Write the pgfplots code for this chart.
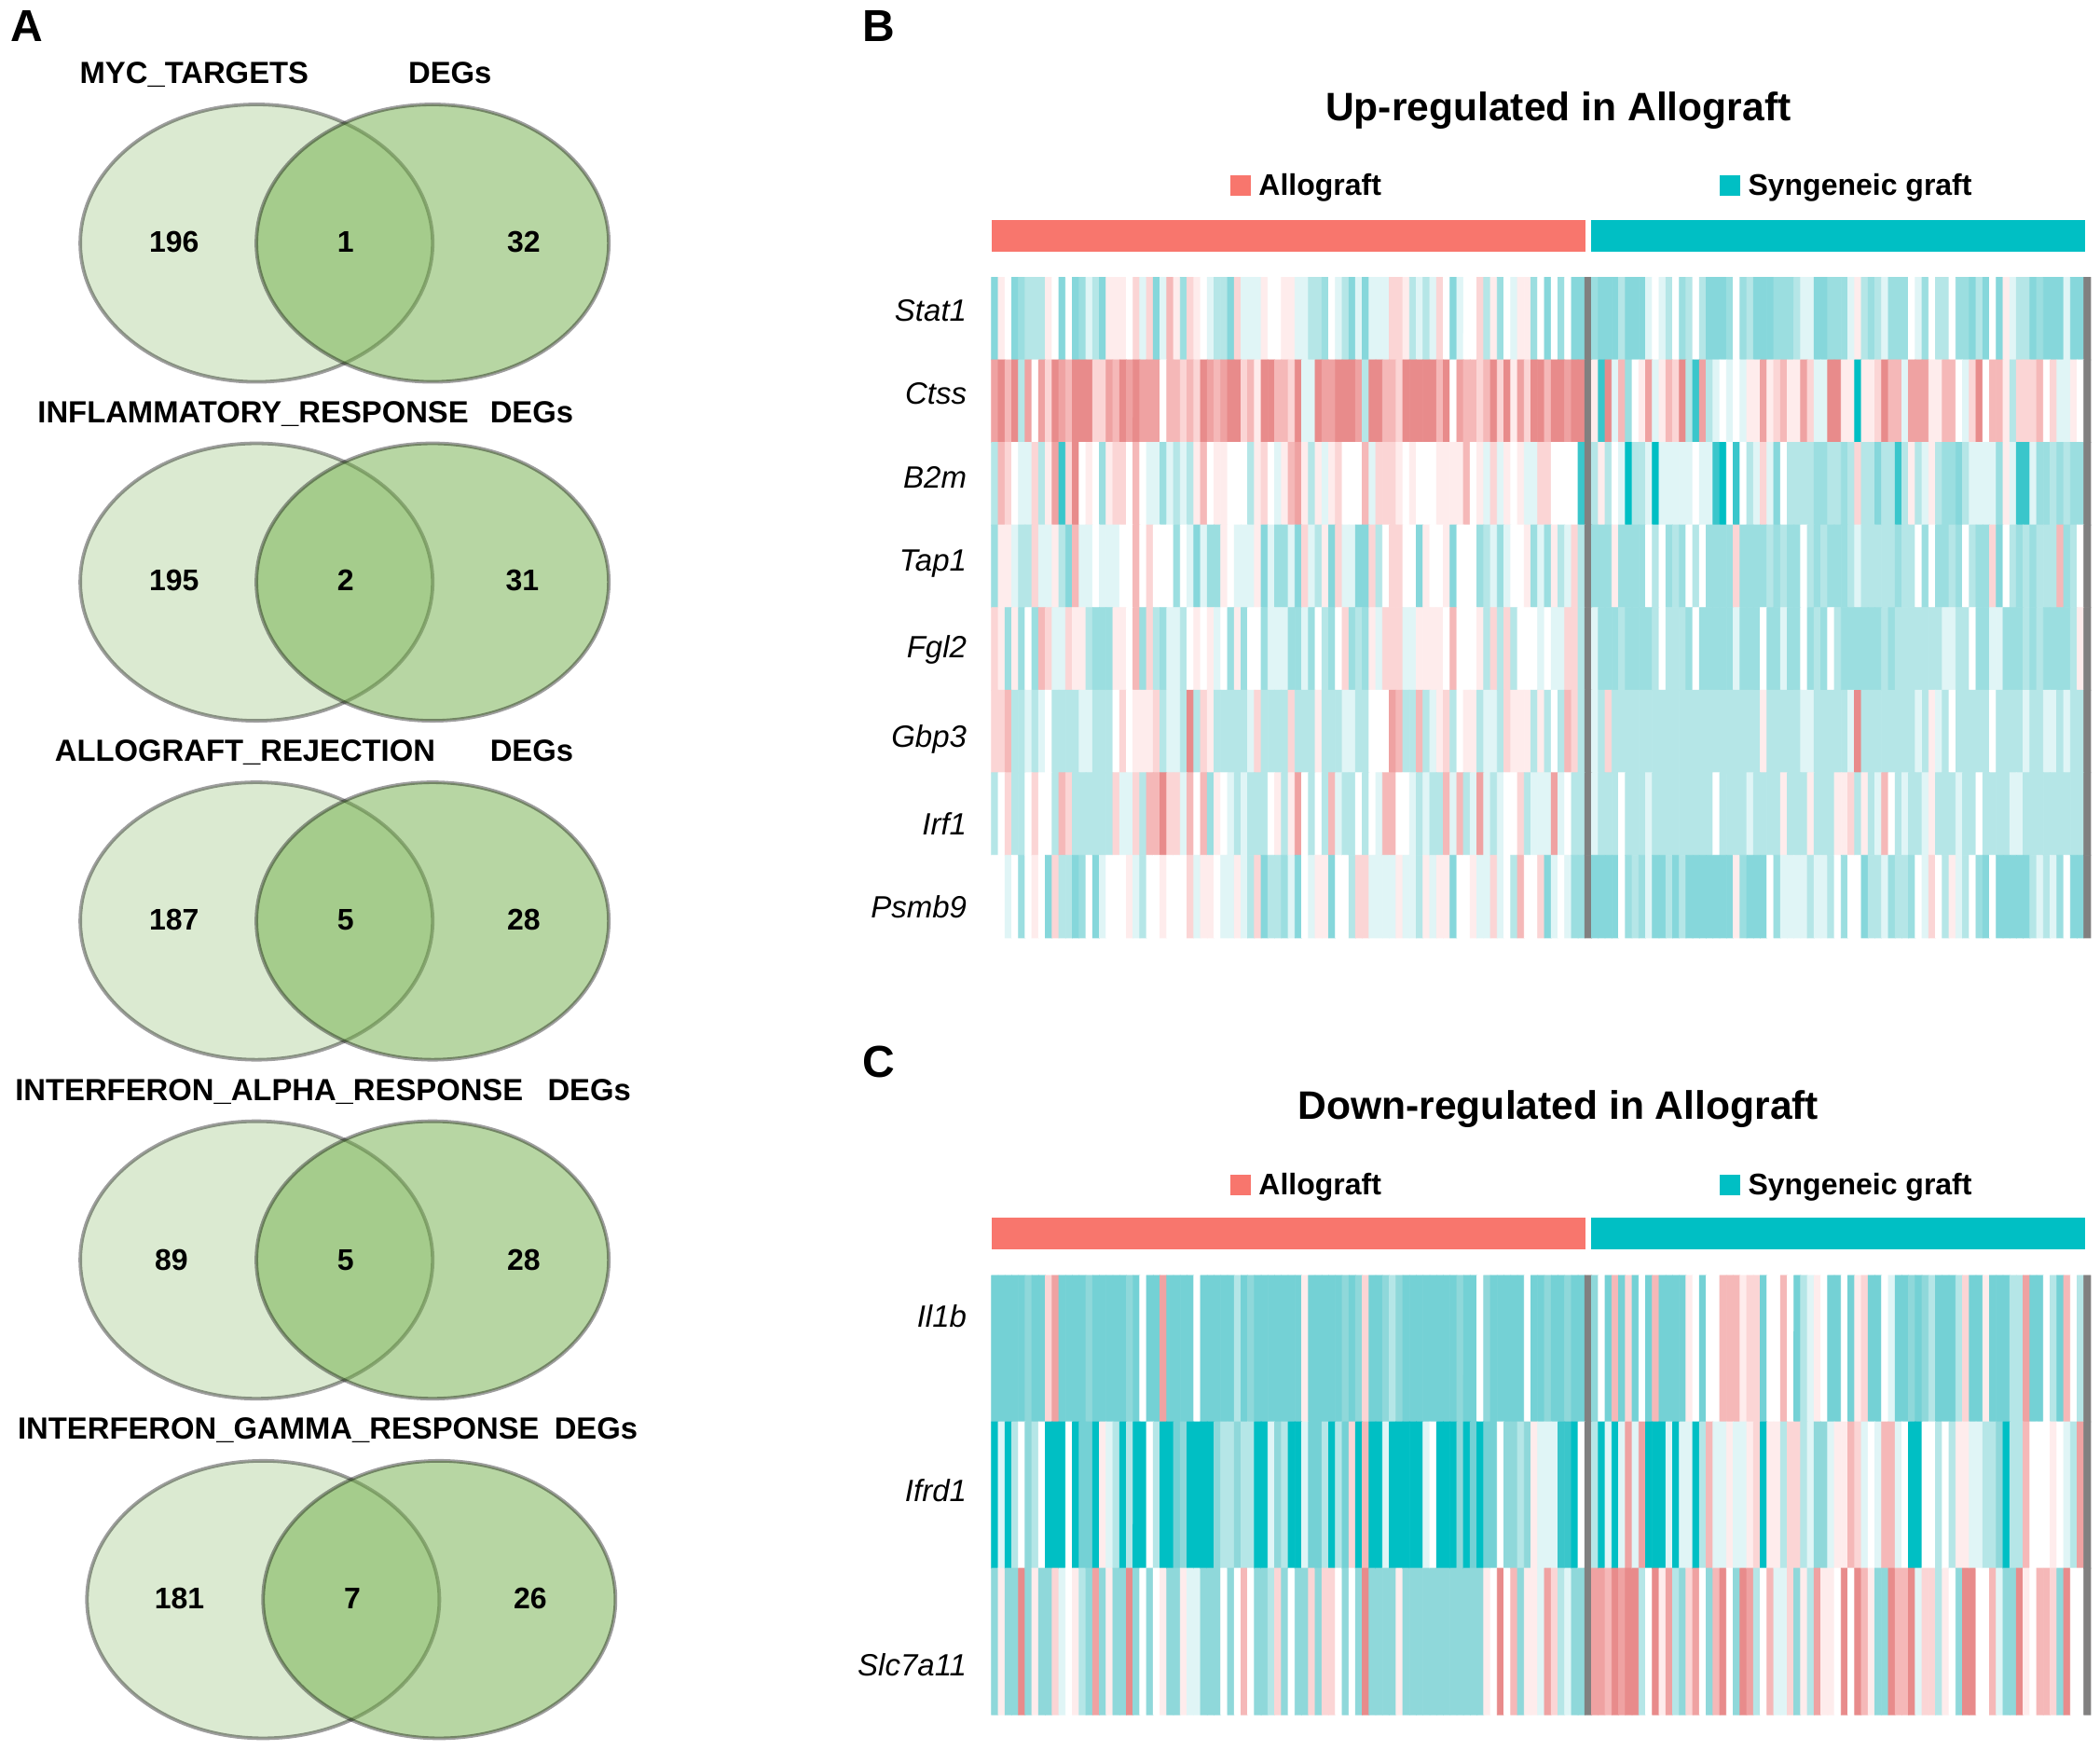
\documentclass[border=0pt]{standalone}
\usepackage{fontspec}
\setmainfont{Liberation Sans}
\usepackage{pgfplots}
\pgfplotsset{compat=1.18}

\definecolor{allo}{HTML}{F8766D}
\definecolor{syn}{HTML}{00BFC4}
\definecolor{venn}{HTML}{70AD47}

% heat scale: -6 teal ... 0 white ... 5 salmon, 6 = NA column (grey)
\pgfplotsset{colormap={heat}{
  rgb255(0cm)=(0,191,196) rgb255(1cm)=(58,198,203) rgb255(2cm)=(134,215,219)
  rgb255(3cm)=(155,222,224) rgb255(4cm)=(181,230,231) rgb255(5cm)=(224,245,246)
  rgb255(6cm)=(255,255,255) rgb255(7cm)=(254,236,236) rgb255(8cm)=(251,213,213)
  rgb255(9cm)=(245,184,184) rgb255(10cm)=(239,162,162) rgb255(11cm)=(232,139,139)
  rgb255(12cm)=(128,128,128)}}
% panel C has a slightly stronger teal
\pgfplotsset{colormap={heatc}{
  rgb255(0cm)=(0,191,196) rgb255(1cm)=(58,198,203) rgb255(2cm)=(116,209,213)
  rgb255(3cm)=(143,216,218) rgb255(4cm)=(181,230,231) rgb255(5cm)=(224,245,246)
  rgb255(6cm)=(255,255,255) rgb255(7cm)=(254,236,236) rgb255(8cm)=(251,213,213)
  rgb255(9cm)=(245,184,184) rgb255(10cm)=(239,162,162) rgb255(11cm)=(232,139,139)
  rgb255(12cm)=(128,128,128)}}

\newcommand{\bnode}[3]{\node[anchor=base,font=\bfseries\fontsize{16.4}{19}\selectfont] at (axis cs:#1,#2) {#3};}
\newcommand{\nnode}[3]{\node[anchor=base,font=\bfseries\fontsize{16}{19}\selectfont] at (axis cs:#1,#2) {#3};}
\newcommand{\lnode}[3]{\node[anchor=base west,inner sep=0pt,font=\bfseries\fontsize{16}{19}\selectfont] at (axis cs:#1,#2) {#3};}
\newcommand{\gene}[2]{\node[anchor=base east,inner sep=0pt,font=\itshape\fontsize{16.5}{19}\selectfont] at (axis cs:722,#1) {#2};}
\newcommand{\panel}[3]{\node[anchor=base,font=\bfseries\fontsize{24}{28}\selectfont] at (axis cs:#1,#2) {#3};}
\newcommand{\rect}[5]{\addplot[fill=#1,draw=none] coordinates {(#2,#4) (#3,#4) (#3,#5) (#2,#5)} -- cycle;}

\begin{document}
\begin{tikzpicture}
\begin{axis}[
  scale only axis, width=1126.5pt, height=938.5pt,
  xmin=0, xmax=1568, ymin=0, ymax=1306.3, y dir=reverse,
  hide axis, clip=false, clip mode=individual,
  colormap name=heat, point meta min=-6, point meta max=6,
]
% keeps the page as large as the whole axis
\path (axis cs:0,0) rectangle (axis cs:1568,1306.3);

% venn circles
\addplot[only marks, mark=*, mark size=74.4pt, line width=1.9pt,
  mark options={xscale=1.2705, draw=black, draw opacity=0.38, fill=venn, fill opacity=0.25}]
  coordinates {(191.5,181.5) (191.5,434.5) (191.5,687.5) (191.5,940.5) (196.5,1194)};
\addplot[only marks, mark=*, mark size=74.4pt, line width=1.9pt,
  mark options={xscale=1.2705, draw=black, draw opacity=0.38, fill=venn, fill opacity=0.5}]
  coordinates {(323,181.5) (323,434.5) (323,687.5) (323,940.5) (328,1194)};

% panel B annotation
\rect{allo}{740.5}{1183.6}{164.2}{187.9}
\rect{syn}{1187.7}{1557}{164.2}{187.9}
\rect{allo}{918.7}{934}{131}{146}
\rect{syn}{1284}{1299}{131}{146}
% panel C annotation
\rect{allo}{740.5}{1183.6}{909.2}{932.9}
\rect{syn}{1187.7}{1557}{909.2}{932.9}
\rect{allo}{918.7}{934}{877}{892}
\rect{syn}{1284}{1299}{877}{892}

% panel B heat map, row by row (88 + NA + 73 + NA cells)
\addplot[matrix plot*, mesh/cols=163, point meta=explicit] table[
  row sep=crcr, header=false, meta index=0,
  x expr={740.3+5.035*(mod(\coordindex,163)+0.5)},
  y expr={207+61.63*(floor(\coordindex/163)+0.5)}]{
-4\\1\\0\\-4\\-3\\-2\\-2\\-2\\1\\0\\
-4\\0\\-4\\-3\\-1\\-2\\-4\\1\\1\\1\\
0\\2\\-1\\2\\-4\\-1\\3\\1\\-3\\2\\
1\\0\\-1\\-2\\-2\\-4\\2\\-1\\-1\\-1\\
1\\0\\0\\1\\1\\-1\\-1\\-2\\-2\\-3\\
0\\-1\\-2\\-4\\-1\\-4\\-1\\-1\\-1\\2\\
2\\1\\-2\\-1\\-2\\-1\\2\\0\\-4\\-1\\
0\\0\\2\\-2\\1\\-3\\0\\-1\\1\\1\\
-3\\0\\-4\\0\\-3\\0\\-4\\-4\\
6\\
-3\\-4\\-4\\-4\\-2\\-4\\-4\\-4\\-1\\0\\
-1\\-2\\0\\-3\\-2\\0\\-2\\-4\\-4\\-4\\
-3\\0\\-3\\-2\\-4\\-4\\-4\\-3\\-3\\-3\\
-2\\-1\\-1\\-4\\-4\\-3\\-3\\-3\\-1\\1\\
-2\\-3\\-2\\-1\\-3\\-3\\-3\\0\\-1\\-3\\
0\\-2\\-2\\0\\-3\\-3\\-4\\-2\\-4\\0\\
-4\\1\\-1\\-2\\-2\\-4\\-3\\-4\\-4\\-4\\
-1\\-4\\-4\\
6\\
4\\5\\3\\5\\-2\\4\\0\\4\\2\\5\\
4\\3\\5\\5\\5\\2\\2\\4\\3\\5\\
4\\5\\4\\4\\4\\0\\3\\3\\2\\3\\
2\\5\\4\\3\\4\\5\\5\\2\\3\\1\\
5\\5\\3\\3\\2\\5\\-1\\-1\\5\\4\\
4\\5\\5\\5\\4\\-2\\5\\5\\3\\3\\
2\\5\\5\\5\\5\\5\\3\\5\\0\\4\\
3\\3\\2\\3\\5\\2\\5\\1\\4\\2\\
5\\5\\3\\5\\5\\4\\5\\5\\
6\\
1\\-5\\5\\-1\\3\\-3\\0\\1\\4\\-1\\
1\\3\\2\\5\\-2\\-5\\4\\-2\\-1\\0\\
-1\\0\\-1\\1\\1\\4\\1\\2\\3\\1\\
1\\4\\2\\-1\\-1\\5\\5\\1\\1\\-6\\
1\\1\\2\\5\\3\\3\\-1\\4\\4\\4\\
1\\1\\3\\3\\0\\-1\\2\\5\\0\\3\\
3\\1\\-2\\2\\2\\2\\3\\0\\2\\-1\\
-1\\1\\0\\
6\\
-2\\3\\2\\0\\-1\\-1\\2\\-2\\1\\4\\
-5\\2\\5\\0\\1\\0\\-3\\1\\2\\2\\
0\\3\\0\\-1\\-1\\-3\\-1\\-2\\-1\\-2\\
1\\3\\0\\1\\1\\0\\0\\0\\-2\\1\\
2\\0\\-1\\1\\3\\4\\1\\-2\\1\\-1\\
1\\2\\0\\0\\0\\3\\-1\\2\\2\\2\\
1\\0\\1\\0\\0\\0\\1\\1\\1\\1\\
3\\0\\1\\-1\\2\\-1\\1\\0\\1\\-1\\
-1\\2\\2\\0\\0\\0\\0\\-5\\
6\\
-2\\1\\-2\\0\\-1\\-6\\-2\\-2\\-1\\-6\\
-1\\-1\\-1\\-1\\-1\\0\\-1\\-1\\-5\\-6\\
0\\-5\\0\\-2\\-1\\2\\-1\\-4\\0\\-2\\
-2\\-2\\-2\\-3\\-3\\-2\\-2\\-3\\-2\\2\\
-2\\-2\\-4\\-2\\-2\\-5\\-2\\1\\-2\\-1\\
1\\-2\\-3\\-3\\-4\\-2\\-1\\-1\\-1\\-1\\
-3\\1\\-1\\-5\\-5\\-1\\-3\\-3\\-2\\-3\\
-2\\-3\\-3\\
6\\
-3\\1\\1\\-1\\-2\\-2\\2\\-1\\-1\\1\\
-2\\-4\\3\\-1\\-1\\0\\-1\\-1\\-1\\0\\
0\\3\\0\\2\\0\\0\\0\\-3\\0\\-1\\
-4\\-1\\-3\\-3\\1\\0\\-1\\-1\\-1\\1\\
-4\\-1\\-3\\-3\\-1\\-4\\2\\-1\\-2\\1\\
-4\\2\\-1\\-1\\-4\\-4\\2\\-2\\0\\2\\
2\\0\\0\\-4\\1\\0\\0\\1\\-4\\0\\
0\\0\\-3\\-2\\-1\\-3\\-1\\0\\0\\1\\
-3\\-1\\-3\\1\\-2\\-1\\2\\-2\\
6\\
-3\\-3\\-3\\1\\-3\\-3\\-3\\-3\\0\\-2\\
0\\-3\\-2\\-3\\0\\-2\\0\\-3\\-3\\-3\\
-3\\2\\-3\\-3\\-3\\-3\\-2\\-3\\-2\\-3\\
-3\\0\\-2\\-3\\-2\\-3\\-3\\-3\\-2\\-1\\
-2\\-2\\-2\\-2\\-2\\-3\\-2\\-2\\0\\-3\\
0\\-3\\-3\\-2\\-3\\0\\-2\\-3\\-3\\2\\
-4\\0\\-2\\-3\\-2\\-3\\-2\\-2\\-2\\3\\
-3\\-2\\0\\
6\\
2\\1\\-3\\1\\-3\\0\\-3\\3\\2\\-1\\
-1\\2\\1\\1\\-2\\-3\\-3\\-3\\1\\1\\
0\\3\\-3\\2\\-2\\-3\\-1\\-1\\-2\\0\\
1\\0\\1\\-1\\0\\-3\\1\\-3\\0\\0\\
-3\\-1\\-1\\-1\\-3\\-3\\-1\\-3\\0\\-2\\
-3\\0\\2\\-3\\-2\\-3\\1\\-1\\2\\2\\
2\\-1\\-1\\1\\1\\1\\1\\0\\3\\0\\
0\\0\\1\\-2\\2\\-2\\2\\-2\\0\\0\\
0\\-1\\0\\-1\\-1\\2\\2\\-2\\
6\\
-1\\-3\\-3\\-3\\-2\\-3\\-3\\-3\\-3\\-2\\
0\\-2\\-2\\-2\\-3\\0\\-3\\-3\\-3\\-3\\
-3\\-1\\-3\\-3\\-3\\0\\-3\\-3\\-1\\-3\\
-3\\0\\-3\\-2\\-3\\0\\-2\\-3\\-3\\-3\\
-3\\-3\\-3\\-2\\-3\\-2\\-2\\-2\\-2\\-2\\
-2\\-2\\-1\\-1\\-2\\-2\\0\\-3\\-3\\-1\\
-1\\-3\\-3\\-3\\-2\\-3\\-2\\-3\\-3\\-3\\
-3\\-2\\1\\
6\\
2\\2\\3\\-2\\-2\\-1\\-2\\-1\\0\\-2\\
-2\\-2\\-2\\-1\\-1\\-2\\-2\\-2\\0\\2\\
0\\1\\1\\1\\2\\-2\\-1\\-1\\-2\\5\\
-2\\2\\1\\-2\\-2\\-2\\-2\\-2\\-1\\2\\
-2\\-2\\-2\\-2\\2\\-2\\-2\\-2\\1\\-2\\
-2\\-2\\-1\\-1\\-2\\-2\\0\\0\\0\\4\\
3\\-2\\-2\\3\\-2\\-1\\1\\2\\-2\\0\\
1\\1\\-2\\-1\\-1\\-2\\2\\1\\1\\1\\
-2\\1\\-2\\0\\-2\\3\\2\\-2\\
6\\
-1\\-2\\2\\-2\\-2\\-2\\-2\\-2\\-2\\-2\\
-2\\-2\\-2\\-2\\-2\\-2\\-2\\-2\\-2\\-2\\
-2\\-2\\-2\\-2\\-2\\1\\-2\\-2\\-2\\-2\\
-2\\-1\\-1\\-2\\-2\\-2\\-2\\-2\\-1\\5\\
-2\\-2\\-2\\-2\\-2\\-2\\-2\\-2\\-1\\-2\\
1\\-1\\-2\\0\\-2\\-2\\-2\\-2\\-2\\0\\
-2\\-2\\-2\\-2\\-1\\-2\\-2\\-1\\-1\\-2\\
-1\\-2\\-2\\
6\\
-2\\0\\2\\-2\\-2\\0\\2\\0\\0\\-2\\
3\\2\\-2\\-2\\-2\\-2\\-2\\-2\\2\\-1\\
-1\\2\\-2\\3\\3\\5\\2\\2\\-1\\3\\
0\\3\\-3\\1\\0\\-1\\-2\\-1\\-2\\-2\\
-2\\0\\1\\-2\\1\\4\\0\\-2\\0\\-2\\
3\\-1\\-2\\-2\\0\\-2\\0\\-1\\3\\3\\
0\\0\\-1\\-2\\-1\\-2\\-2\\3\\-1\\3\\
-2\\-1\\4\\-1\\-2\\-1\\0\\0\\2\\-2\\
-1\\-1\\-1\\4\\-1\\0\\-2\\-2\\
6\\
-1\\-2\\-2\\-2\\0\\-2\\-2\\-2\\-1\\-2\\
-2\\-2\\-2\\-2\\-2\\-2\\-2\\-2\\0\\-2\\
-2\\-2\\-2\\-1\\-2\\-2\\-2\\-2\\1\\-2\\
-2\\-2\\1\\-2\\-2\\-2\\1\\1\\2\\-2\\
1\\-2\\-1\\3\\0\\-2\\-1\\-2\\-2\\-1\\
1\\-2\\-2\\-2\\-1\\-2\\-2\\0\\-2\\-2\\
-2\\-2\\-1\\-1\\-2\\-2\\-2\\-2\\-2\\-2\\
-2\\-2\\-2\\
6\\
0\\0\\-1\\0\\-3\\0\\1\\0\\-4\\2\\
-2\\-2\\-4\\-3\\0\\-4\\-1\\0\\0\\0\\
1\\-1\\-2\\0\\0\\1\\0\\0\\0\\2\\
-1\\1\\1\\0\\-1\\-1\\1\\-1\\-2\\2\\
-4\\-2\\-2\\-3\\-1\\-4\\0\\-1\\1\\1\\
-4\\0\\0\\-2\\2\\2\\-1\\-1\\-1\\-1\\
1\\-1\\-1\\-2\\1\\-1\\1\\1\\-4\\0\\
0\\1\\-1\\-1\\2\\-1\\0\\-2\\3\\0\\
0\\2\\-4\\-1\\0\\-1\\-3\\-3\\
6\\
-4\\-4\\-4\\-4\\0\\-3\\-2\\-3\\-1\\-4\\
-4\\-2\\-4\\-2\\-4\\-4\\-4\\-4\\-4\\-4\\
-4\\1\\-3\\-4\\-4\\-4\\0\\-3\\-1\\-1\\
-1\\-1\\-2\\-1\\-1\\-2\\0\\-3\\0\\0\\
-4\\-2\\-2\\-1\\-3\\-2\\-2\\-3\\0\\-1\\
2\\0\\-2\\1\\-1\\-2\\0\\-3\\-4\\0\\
-4\\-4\\-4\\-4\\-4\\-2\\-1\\-2\\-1\\-3\\
0\\-4\\-4\\
6\\
};

% panel C heat map
\addplot[matrix plot*, colormap name=heatc, mesh/cols=163, point meta=explicit] table[
  row sep=crcr, header=false, meta index=0,
  x expr={740.3+5.035*(mod(\coordindex,163)+0.5)},
  y expr={952+109.33*(floor(\coordindex/163)+0.5)}]{
-4\\-4\\-4\\-4\\-4\\-3\\-4\\-4\\2\\4\\
-4\\-4\\-4\\-4\\-3\\-4\\-4\\-4\\-4\\-4\\
-3\\-4\\0\\-4\\-4\\4\\-4\\-4\\-4\\-4\\
0\\-4\\-4\\-4\\-4\\-4\\-2\\-4\\-3\\-4\\
-4\\-4\\-4\\-4\\-4\\-4\\1\\-4\\-4\\-4\\
-4\\-4\\-3\\-4\\-3\\2\\-4\\-4\\-3\\-2\\
-3\\-4\\-4\\-4\\-4\\-4\\-4\\-4\\-4\\-3\\
-4\\-4\\0\\-3\\-4\\-4\\-4\\-4\\-4\\0\\
-4\\-4\\-3\\-4\\-4\\-3\\-4\\-4\\
6\\
-3\\0\\-4\\3\\-4\\2\\-4\\0\\-4\\3\\
-4\\-4\\-4\\-4\\1\\0\\-4\\0\\0\\3\\
3\\3\\1\\2\\2\\-4\\0\\0\\3\\0\\
-4\\-2\\-1\\1\\0\\-4\\-4\\0\\-4\\1\\
2\\-4\\-4\\0\\-1\\-4\\-4\\-3\\-4\\-3\\
-2\\-4\\-4\\-4\\-2\\2\\-4\\-4\\1\\-4\\
-4\\-4\\-2\\-2\\4\\-4\\-4\\0\\-2\\-4\\
3\\0\\-2\\
6\\
-6\\-1\\-6\\-2\\0\\-3\\-2\\0\\-6\\-6\\
-6\\0\\-6\\-4\\-4\\-6\\1\\-1\\-2\\-6\\
-2\\-6\\-6\\0\\-2\\-6\\-6\\-4\\-3\\-6\\
-6\\-6\\-6\\-3\\-2\\-2\\-3\\-2\\-2\\-6\\
-6\\-1\\-3\\-2\\-6\\-6\\-1\\-4\\-4\\-2\\
-6\\-2\\-4\\2\\-6\\3\\-6\\-6\\-1\\-6\\
-6\\-6\\-6\\-6\\-1\\0\\-6\\-6\\-6\\-3\\
-6\\-4\\-6\\-4\\-4\\0\\-3\\-3\\-2\\-3\\
1\\-1\\-1\\-1\\-5\\-5\\-6\\0\\
6\\
-2\\-6\\-1\\-6\\-1\\4\\-1\\4\\-6\\-6\\
-6\\-1\\-6\\-1\\-1\\-6\\-2\\3\\-1\\-1\\
1\\-1\\-1\\1\\2\\-6\\1\\1\\-2\\2\\
2\\-2\\-1\\-3\\-3\\-1\\1\\1\\3\\2\\
-1\\0\\-1\\3\\3\\-1\\0\\-6\\-6\\0\\
0\\-2\\0\\-2\\1\\1\\-1\\-1\\-2\\-2\\
-3\\-6\\-2\\-2\\3\\0\\0\\0\\1\\0\\
-1\\-2\\4\\
6\\
-3\\1\\-3\\-3\\5\\-3\\1\\-3\\-3\\2\\
-1\\0\\1\\-2\\-3\\4\\-3\\1\\-3\\-3\\
5\\-3\\0\\-3\\0\\1\\-3\\-3\\1\\-1\\
-1\\-3\\-3\\-3\\0\\-3\\0\\3\\0\\-3\\
-3\\-2\\2\\-3\\0\\-3\\-3\\2\\-3\\2\\
2\\0\\-3\\0\\-3\\5\\-3\\-3\\-3\\-3\\
1\\-3\\-3\\-3\\-3\\-3\\-3\\-3\\-3\\-3\\
-3\\-3\\-3\\1\\0\\5\\0\\3\\-3\\1\\
1\\-1\\4\\2\\-2\\-1\\-3\\-3\\
6\\
4\\4\\3\\5\\4\\5\\5\\-2\\0\\5\\
1\\4\\-2\\-3\\2\\4\\0\\-3\\3\\5\\
0\\-3\\5\\4\\-2\\0\\3\\-1\\-1\\2\\
-3\\1\\-2\\4\\1\\1\\0\\5\\0\\5\\
3\\1\\-3\\-3\\5\\3\\3\\5\\-1\\2\\
2\\-2\\1\\0\\-3\\5\\5\\0\\0\\3\\
-1\\-3\\-3\\5\\1\\0\\3\\3\\2\\-3\\
5\\0\\0\\
6\\
};

% panel letters
\panel{20}{31}{A}
\panel{656}{31}{B}
\panel{656}{804}{C}

% venn labels
\bnode{145}{62}{MYC\_TARGETS}
\bnode{336}{62}{DEGs}
\bnode{189}{315.5}{INFLAMMATORY\_RESPONSE}
\bnode{397}{315.5}{DEGs}
\bnode{183}{568.5}{ALLOGRAFT\_REJECTION}
\bnode{397}{568.5}{DEGs}
\bnode{201}{821.5}{INTERFERON\_ALPHA\_RESPONSE}
\bnode{440}{821.5}{DEGs}
\bnode{208}{1074.5}{INTERFERON\_GAMMA\_RESPONSE}
\bnode{445}{1074.5}{DEGs}

\nnode{130}{188}{196} \nnode{258}{188}{1} \nnode{391}{188}{32}
\nnode{130}{441}{195} \nnode{258}{441}{2} \nnode{390}{441}{31}
\nnode{130}{694}{187} \nnode{258}{694}{5} \nnode{391}{694}{28}
\nnode{128}{948}{89}  \nnode{258}{948}{5} \nnode{391}{948}{28}
\nnode{134}{1201}{181} \nnode{263}{1201}{7} \nnode{396}{1201}{26}

% titles and legends
\node[anchor=base,font=\bfseries\fontsize{21.3}{25}\selectfont] at (axis cs:1163.5,90) {Up-regulated in Allograft};
\node[anchor=base,font=\bfseries\fontsize{21.3}{25}\selectfont] at (axis cs:1163.5,835.5) {Down-regulated in Allograft};
\lnode{939.6}{145.6}{Allograft}
\lnode{1305}{145.6}{Syngeneic graft}
\lnode{939.6}{891.6}{Allograft}
\lnode{1305}{891.6}{Syngeneic graft}

% gene labels
\gene{240}{Stat1} \gene{302}{Ctss} \gene{364}{B2m} \gene{426}{Tap1}
\gene{491}{Fgl2} \gene{558}{Gbp3} \gene{623}{Irf1} \gene{685}{Psmb9}
\gene{991}{Il1b} \gene{1121}{Ifrd1} \gene{1251}{Slc7a11}
\end{axis}
\end{tikzpicture}
\end{document}
